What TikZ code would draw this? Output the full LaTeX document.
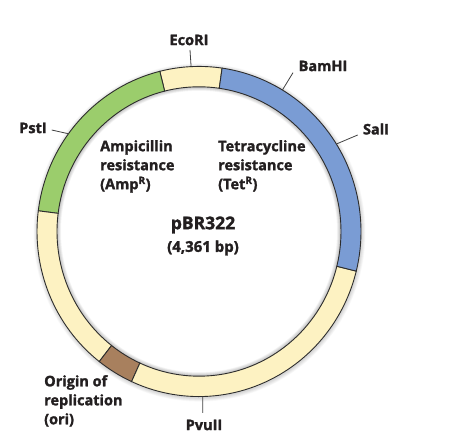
\documentclass[tikz,border=0pt]{standalone}
\usepackage{fontspec}
\setmainfont{Open Sans}
\newfontfamily\lblfont{Open Sans}[FakeBold=1.6]
\usetikzlibrary{calc}
\definecolor{ringyellow}{RGB}{253,242,194}
\definecolor{ringgreen}{RGB}{155,205,108}
\definecolor{ringblue}{RGB}{122,156,212}
\definecolor{ringbrown}{RGB}{168,128,94}
\definecolor{ringline}{RGB}{45,45,45}
\definecolor{txt}{RGB}{35,31,32}
\newcommand\ringseg[3]{%
  \filldraw[segment,fill=#3] (#1:162) arc[start angle=#1,end angle=#2,radius=162]
    -- (#2:142) arc[start angle=#2,end angle=#1,radius=142] -- cycle;}
\begin{document}
\begin{tikzpicture}[x=1pt,y=1pt,
  lbl/.style={font=\lblfont\bfseries\fontsize{14.5}{19}\selectfont, text=txt, inner sep=1pt},
  biglbl/.style={font=\lblfont\bfseries\fontsize{17.5}{20}\selectfont, text=txt, inner sep=1pt},
  midlbl/.style={font=\lblfont\bfseries\fontsize{15}{17}\selectfont, text=txt, inner sep=1pt},
  segment/.style={draw=ringline, line width=0.9pt},
  tickline/.style={draw=ringline!90, line width=0.8pt}]
\useasboundingbox (0,0) rectangle (453,435);
\fill[white] (0,0) rectangle (453,435);
\begin{scope}[shift={(199,203.5)}, yscale=1.019]
  % soft shadow
  \foreach \w in {1,2,...,8}{
    \draw[black, opacity=0.03, line width=\w pt] (0,0) circle[radius=142];
    \draw[black, opacity=0.02, line width=\w pt] (0.5,-1) circle[radius=162];
  }
  \ringseg{81.8}{104}{ringyellow}
  \ringseg{104}{172.8}{ringgreen}
  \ringseg{172.8}{232}{ringyellow}
  \ringseg{232}{245.4}{ringbrown}
  \ringseg{245.4}{346.1}{ringyellow}
  \ringseg{-13.9}{81.8}{ringblue}
  \coordinate (rEco) at (92.8:162);
  \coordinate (rBam) at (59:162);
  \coordinate (rSal) at (32:162);
  \coordinate (rPst) at (143.7:162);
  \coordinate (rPvu) at (-88.7:162);
\end{scope}
% tick ends
\coordinate (tEco) at (190,385);
\coordinate (tBam) at (293,362.3);
\coordinate (tSal) at (357.7,300);
\coordinate (tPst) at (51.7,305);
\coordinate (tPvu) at (202.7,22);
\draw[tickline] (rEco) -- (tEco);
\draw[tickline] (rBam) -- (tBam);
\draw[tickline] (rSal) -- (tSal);
\draw[tickline] (rPst) -- (tPst);
\draw[tickline] (rPvu) -- (tPvu);
% labels
\node[lbl] (eco) at (189,395) {EcoRI};
\node[lbl] (bam) at (323,369) {BamHI};
\node[lbl] (sal) at (376,306) {SalI};
\node[lbl] (pst) at (33,307) {PstI};
\node[lbl] (pvu) at (204,10) {PvuII};
\node[lbl, anchor=north west, align=left] (ori) at (43,61) {Origin of\\replication\\(ori)};
\node[lbl, anchor=north west, align=left] (amp) at (99,296) {Ampicillin\\resistance\\(Amp\textsuperscript{R})};
\node[lbl, anchor=north west, align=left] (tet) at (217,296) {Tetracycline\\resistance\\(Tet\textsuperscript{R})};
\node[biglbl] (name) at (203,210) {pBR322};
\node[midlbl] (size) at (203,187) {(4,361 bp)};
\end{tikzpicture}
\end{document}
